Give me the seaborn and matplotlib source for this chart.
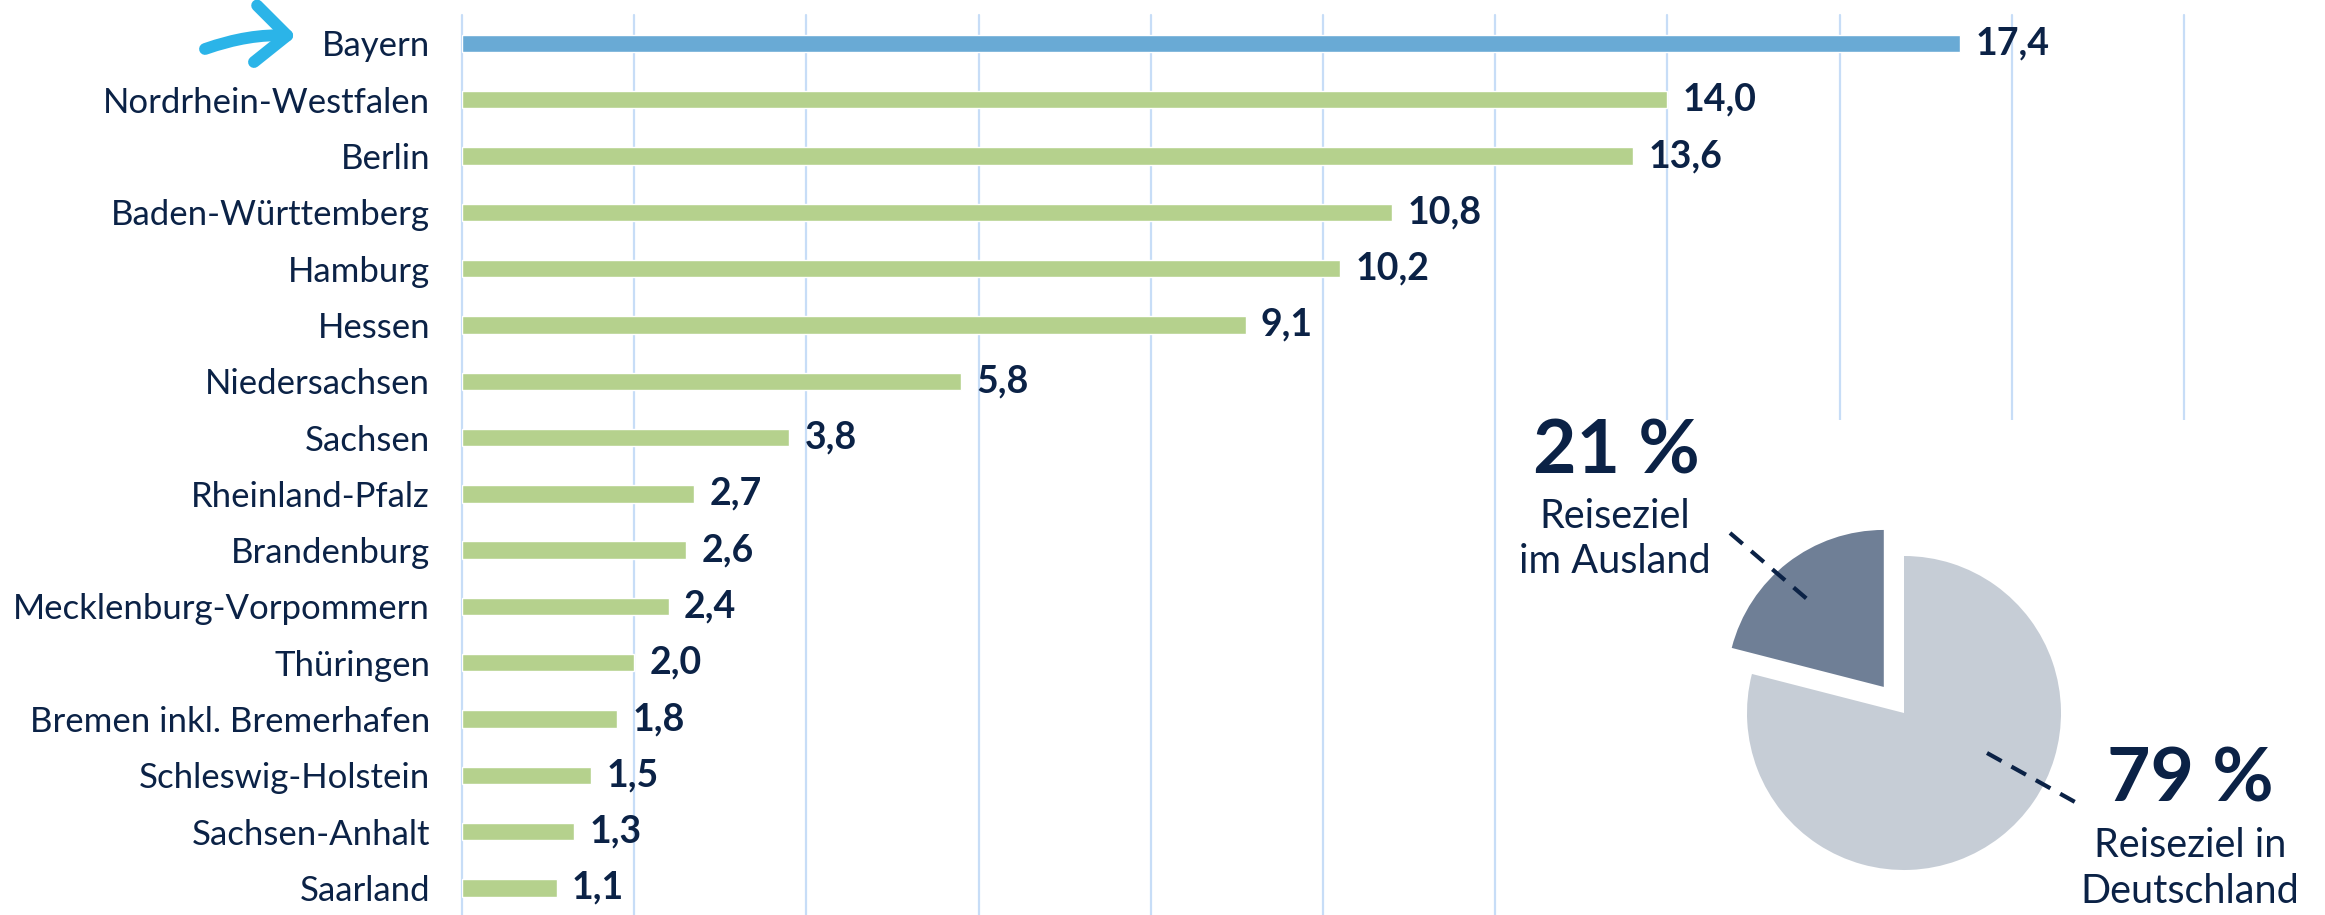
import matplotlib
matplotlib.use("Agg")
import matplotlib.pyplot as plt
import seaborn as sns
import pandas as pd
from matplotlib.patches import Rectangle, FancyArrowPatch

# ---------------- data ----------------
states = ["Bayern", "Nordrhein-Westfalen", "Berlin", "Baden-Württemberg", "Hamburg",
          "Hessen", "Niedersachsen", "Sachsen", "Rheinland-Pfalz", "Brandenburg",
          "Mecklenburg-Vorpommern", "Thüringen", "Bremen inkl. Bremerhafen",
          "Schleswig-Holstein", "Sachsen-Anhalt", "Saarland"]
values = [17.4, 14.0, 13.6, 10.8, 10.2, 9.1, 5.8, 3.8, 2.7, 2.6, 2.4, 2.0, 1.8, 1.5, 1.3, 1.1]
value_labels = ["17,4", "14,0", "13,6", "10,8", "10,2", "9,1", "5,8", "3,8", "2,7", "2,6",
                "2,4", "2,0", "1,8", "1,5", "1,3", "1,1"]
pie_labels = ["Reiseziel\nim Ausland", "Reiseziel in\nDeutschland"]
pie_values = [21, 79]
pie_pct = ["21 %", "79 %"]

# ---------------- style ----------------
NAVY = "#0b2246"
BLUE_BAR = "#69aad5"
GREEN_BAR = "#b5d18d"
GRID = "#c7ddf7"
PIE_DARK = "#6f7f96"
PIE_LIGHT = "#c6cdd6"
ARROW = "#2bb4e8"

sns.set_theme(style="white")
plt.rcParams["font.family"] = ["Lato", "DejaVu Sans"]

W, H = 2325, 915
fig = plt.figure(figsize=(W / 100, H / 100), dpi=100)
fig.patch.set_facecolor("white")

def px_rect(x0, y0, x1, y1):
    return [x0 / W, 1 - y1 / H, (x1 - x0) / W, (y1 - y0) / H]

# ---------------- bar chart ----------------
ax = fig.add_axes(px_rect(462, 15, 2184, 915))
ax.set_zorder(0)
df = pd.DataFrame({"state": states, "value": values})
palette = {s: (BLUE_BAR if i == 0 else GREEN_BAR) for i, s in enumerate(states)}
sns.barplot(data=df, x="value", y="state", hue="state", palette=palette, legend=False,
            orient="h", width=0.31, saturation=1, ax=ax, zorder=3)
for cont, lab in zip(ax.containers, value_labels):
    ax.bar_label(cont, labels=[lab], padding=11, fontsize=27, fontweight="bold", color=NAVY)
ax.set_xlim(0, 20)
ax.set_ylim(len(states) - 0.52, -0.505)
ax.set_xticks(range(0, 21, 2))
ax.set_xticklabels([])
ax.xaxis.grid(True, color=GRID, linewidth=1.6)
ax.yaxis.grid(False)
ax.set_axisbelow(True)
for g in ax.get_xgridlines():
    g.set_clip_on(False)
for sp in ax.spines.values():
    sp.set_visible(False)
ax.tick_params(axis="y", length=0, pad=23, labelsize=25, labelcolor=NAVY)
ax.tick_params(axis="x", length=0)
ax.set_xlabel("")
ax.set_ylabel("")

# ---------------- white box behind pie ----------------
deco = fig.add_axes([0, 0, 1, 1])
deco.set_zorder(1)
deco.set_xlim(0, W)
deco.set_ylim(H, 0)
deco.axis("off")
deco.patch.set_alpha(0)
deco.add_patch(Rectangle((1508, 420), W - 1508, H - 420, facecolor="white", edgecolor="none"))

# ---------------- pie ----------------
cx, cy, R = 1904, 713, 157
half = 1.25 * R
pax = fig.add_axes(px_rect(cx - half, cy - half, cx + half, cy + half))
pax.set_zorder(2)
pax.pie(pie_values, colors=[PIE_DARK, PIE_LIGHT], startangle=90, counterclock=True,
        explode=[0.21, 0], wedgeprops=dict(linewidth=0))
pax.set_aspect("equal")

# ---------------- annotations ----------------
top = fig.add_axes([0, 0, 1, 1])
top.set_zorder(3)
top.set_xlim(0, W)
top.set_ylim(H, 0)
top.axis("off")
top.patch.set_alpha(0)

# leader lines
top.plot([1730, 1807], [533, 599], color=NAVY, lw=3, ls=(0, (4, 2.7)))
top.plot([1987, 2075], [753, 802], color=NAVY, lw=3, ls=(0, (4, 2.7)))

# pie texts
top.text(1616, 473, pie_pct[0], ha="center", va="baseline", fontsize=54,
         fontweight="bold", color=NAVY)
l1, l2 = pie_labels[0].split("\n")
top.text(1615, 528, l1, ha="center", va="baseline", fontsize=28.5, color=NAVY)
top.text(1615, 573, l2, ha="center", va="baseline", fontsize=28.5, color=NAVY)
top.text(2190, 802, pie_pct[1], ha="center", va="baseline", fontsize=54,
         fontweight="bold", color=NAVY)
l1, l2 = pie_labels[1].split("\n")
top.text(2190, 857, l1, ha="center", va="baseline", fontsize=28.5, color=NAVY)
top.text(2190, 903, l2, ha="center", va="baseline", fontsize=28.5, color=NAVY)

# arrow pointing at Bayern
arr = FancyArrowPatch((205, 49), (296, 36), connectionstyle="arc3,rad=-0.1",
                      arrowstyle="->,head_length=0.95,head_width=0.85", mutation_scale=24,
                      color=ARROW, linewidth=8.5, capstyle="round", joinstyle="round",
                      shrinkA=0, shrinkB=0)
top.add_patch(arr)

fig.savefig("out.png", dpi=100, facecolor="white")
